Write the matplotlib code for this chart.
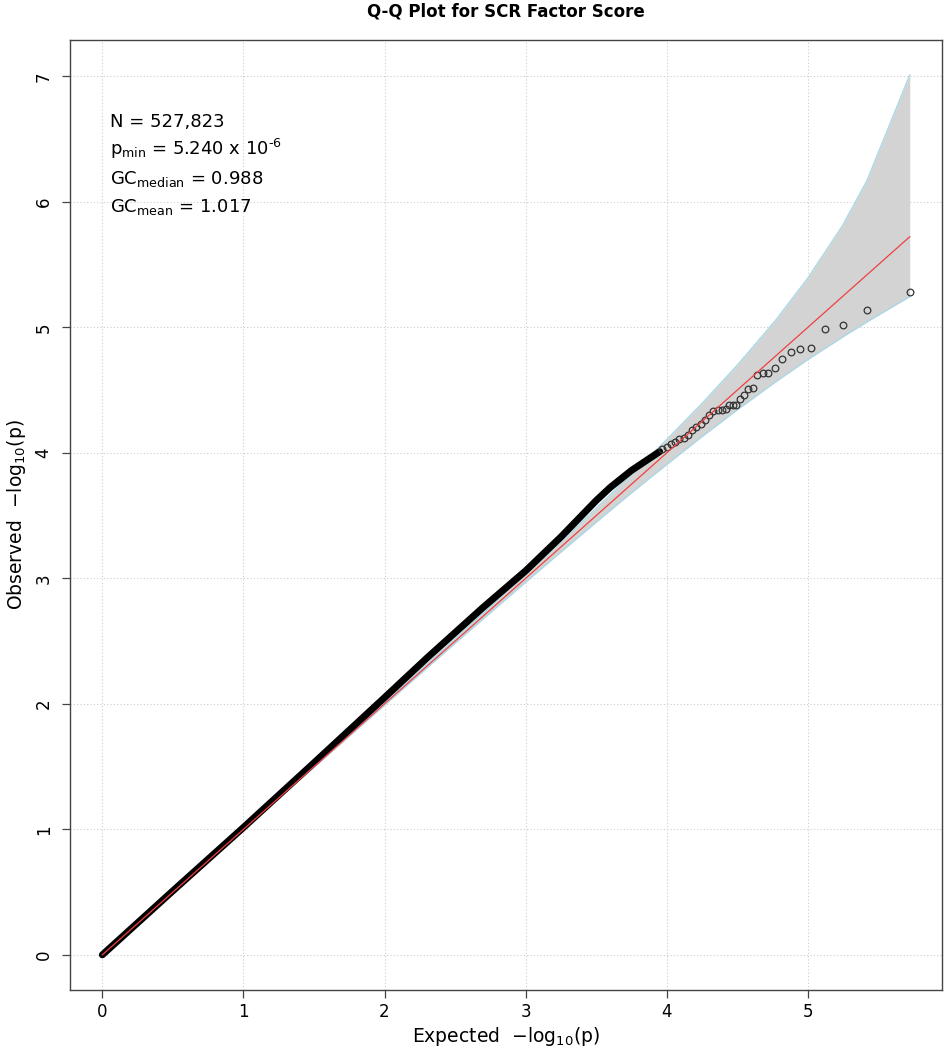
import matplotlib
matplotlib.use("Agg")
import matplotlib.pyplot as plt

plt.rcParams["font.family"] = ["DejaVu Sans"]
plt.rcParams["mathtext.default"] = "regular"

# dense part of the observed curve (expected, observed)
exp_dense = [0.0, 0.5, 1.0, 1.5, 2.0, 2.3, 2.7, 3.0, 3.25, 3.5, 3.6, 3.75, 3.85, 3.95]
obs_dense = [0.0, 0.51, 1.015, 1.53, 2.05, 2.365, 2.77, 3.06, 3.33, 3.62, 3.725, 3.86, 3.935, 4.01]

# sparser tail, drawn as open circles
exp_tail = [3.97, 4.00, 4.03, 4.06, 4.09, 4.12, 4.15, 4.18, 4.21, 4.24, 4.27, 4.30,
            4.33, 4.36, 4.39, 4.42, 4.443, 4.467, 4.492, 4.518, 4.546, 4.576, 4.608,
            4.643, 4.68, 4.72, 4.77, 4.82, 4.878, 4.945, 5.025, 5.12, 5.246, 5.42, 5.7225]
obs_tail = [4.03, 4.05, 4.07, 4.09, 4.11, 4.12, 4.14, 4.18, 4.21, 4.23, 4.26, 4.30,
            4.33, 4.34, 4.34, 4.35, 4.38, 4.38, 4.38, 4.43, 4.46, 4.51, 4.52,
            4.62, 4.64, 4.64, 4.673, 4.75, 4.80, 4.825, 4.838, 4.984, 5.016, 5.135, 5.28]

# confidence band
band_x = [0.0, 1.0, 1.5, 2.0, 2.5, 3.0, 3.25, 3.5, 3.75, 4.0, 4.25, 4.5, 4.77, 5.0, 5.246, 5.42, 5.7225]
band_hi = [0.0, 1.002, 1.505, 2.010, 2.518, 3.032, 3.293, 3.558, 3.83, 4.105, 4.393, 4.698, 5.053, 5.392, 5.81, 6.17, 7.01]
band_lo = [0.0, 0.998, 1.495, 1.990, 2.483, 2.970, 3.210, 3.448, 3.682, 3.908, 4.13, 4.344, 4.565, 4.744, 4.923, 5.045, 5.246]

x_max = 5.7225
x_ticks = [0, 1, 2, 3, 4, 5]
y_ticks = [0, 1, 2, 3, 4, 5, 6, 7]

annot_lines = [
    "N = 527,823",
    "p$_{min}$ = 5.240 x 10$^{\u2010 6}$",
    r"GC$_{median}$ = 0.988",
    r"GC$_{mean}$ = 1.017",
]
annot_y = [0.9087, 0.8789, 0.8481, 0.8186]

fig = plt.figure(figsize=(9.44, 10.5), dpi=100)
ax = fig.add_axes([70 / 944, 60 / 1050, 872 / 944, 950 / 1050])

ax.set_xlim(-0.229, 5.951)
ax.set_ylim(-0.28, 7.29)

ax.grid(True, color="#cccccc", linestyle=(0, (1, 2)), linewidth=0.8)
ax.set_axisbelow(True)

ax.fill_between(band_x, band_lo, band_hi, color="#d3d3d3", linewidth=0, zorder=2)
ax.plot(band_x, band_hi, color="#add8e6", lw=1.1, zorder=2.1)
ax.plot(band_x, band_lo, color="#add8e6", lw=1.1, zorder=2.1)

ax.plot(exp_dense, obs_dense, color="black", lw=5.0, solid_capstyle="round",
        solid_joinstyle="round", zorder=3)
ax.plot(exp_tail, obs_tail, linestyle="none", marker="o", markersize=4.8,
        markerfacecolor="none", markeredgecolor="#333333", markeredgewidth=0.9, zorder=3)

ax.plot([0, x_max], [0, x_max], color="#f04040", lw=0.9, zorder=4)

for line, yy in zip(annot_lines, annot_y):
    ax.text(40 / 872, yy, line, transform=ax.transAxes, fontsize=13,
            ha="left", va="baseline")

ax.set_xticks(x_ticks)
ax.set_yticks(y_ticks)
ax.tick_params(axis="both", direction="out", length=5.5, width=0.9,
               color="#444444", labelsize=12)
ax.tick_params(axis="x", pad=4)
ax.tick_params(axis="y", pad=7)
for lab in ax.get_yticklabels():
    lab.set_rotation(90)
    lab.set_va("center")

for sp in ax.spines.values():
    sp.set_color("#444444")
    sp.set_linewidth(1.0)

ax.set_xlabel(r"Expected  $-$log$_{10}$(p)", fontsize=13.5, labelpad=3)
ax.set_ylabel(r"Observed  $-$log$_{10}$(p)", fontsize=13.5, labelpad=5)
ax.set_title("Q-Q Plot for SCR Factor Score", fontsize=12, fontweight="bold", pad=17)

fig.savefig("out.png", dpi=100)
